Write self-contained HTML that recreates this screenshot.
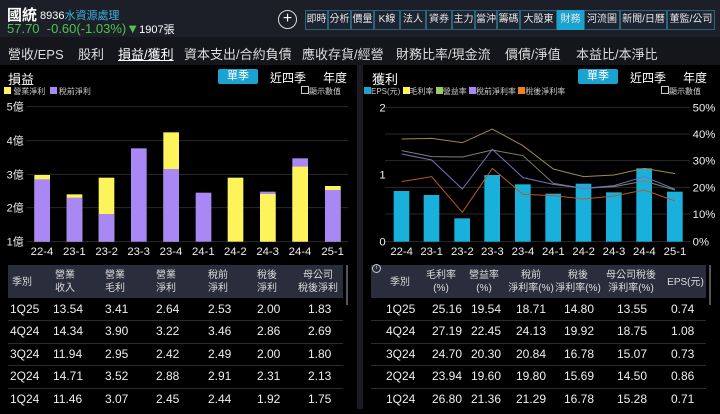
<!DOCTYPE html>
<html><head><meta charset="utf-8"><style>
*{margin:0;padding:0;box-sizing:border-box}
body{width:720px;height:409px;background:#000;color:#fff;font-family:"Liberation Sans","Noto Sans CJK TC",sans-serif;position:relative;overflow:hidden}
.a{position:absolute;white-space:nowrap}
.tb{position:absolute;top:10px;height:20px;border:1px solid #2d6478;font-size:10px;line-height:18px;text-align:center;color:#e8e8e8;background:#1b2430}
.nav{font-size:13px;top:44px;color:#ddd}
.th{position:absolute;font-size:10px;color:#ddd;text-align:center;line-height:13px}
.sep{position:absolute;height:1px;background:#2a2c34}
</style></head><body>
<div class="a" style="left:0;top:0;width:720px;height:37px;background:#1c1f27"></div>
<div class="a" style="left:0;top:37px;width:720px;height:28px;background:#14161b"></div>
<div class="a" style="left:7px;top:4px;font-size:15px;font-weight:bold">國統</div>
<div class="a" style="left:40px;top:7px;font-size:11px">8936<span style="color:#3fb0e0">水資源處理</span></div>
<div class="a" style="left:7px;top:21px;font-size:13px;color:#4fc34f">57.70 &nbsp;-0.60(-1.03%)▼<span style="color:#fff;font-size:11px">1907張</span></div>
<div class="a" style="left:278px;top:10px;width:19px;height:19px;border:1.5px solid #ddd;border-radius:50%;font-size:16px;line-height:15px;text-align:center">+</div>
<div class="tb" style="left:305px;width:23px">即時</div><div class="tb" style="left:328px;width:23px">分析</div><div class="tb" style="left:351px;width:23px">價量</div><div class="tb" style="left:374px;width:26px">K線</div><div class="tb" style="left:400px;width:26px">法人</div><div class="tb" style="left:426px;width:26px">資券</div><div class="tb" style="left:452px;width:23px">主力</div><div class="tb" style="left:475px;width:22px">當沖</div><div class="tb" style="left:497px;width:23px">籌碼</div><div class="tb" style="left:520px;width:37px">大股東</div><div class="tb" style="left:557px;width:27px;background:#1aa3d0;border-color:#1aa3d0">財務</div><div class="tb" style="left:584px;width:36px">河流圖</div><div class="tb" style="left:620px;width:47px">新聞/日曆</div><div class="tb" style="left:667px;width:48px">董監/公司</div>
<div class="a nav" style="left:8px">營收/EPS</div><div class="a nav" style="left:78px">股利</div><div class="a nav" style="left:118px;text-decoration:underline;color:#fff">損益/獲利</div><div class="a nav" style="left:184px">資本支出/合約負債</div><div class="a nav" style="left:302px">應收存貨/經營</div><div class="a nav" style="left:396px">財務比率/現金流</div><div class="a nav" style="left:505px">價債/淨值</div><div class="a nav" style="left:576px">本益比/本淨比</div>
<div class="a" style="left:357px;top:65px;width:6px;height:344px;background:#1a1c22"></div>
<div class="a" style="left:8px;top:69px;font-size:13px">損益</div>
<div class="a" style="left:218px;top:69px;width:40px;height:15px;background:#1aa3d0;border-radius:2px;font-size:11px;text-align:center;line-height:15px">單季</div>
<div class="a" style="left:270px;top:69px;font-size:12px">近四季</div><div class="a" style="left:323px;top:69px;font-size:12px">年度</div>
<div class="a" style="left:4px;top:86px;font-size:8px;color:#ccc"><span style="display:inline-block;width:7px;height:7px;background:#fdf35a"></span> 營業淨利 &nbsp;<span style="display:inline-block;width:7px;height:7px;background:#a987f5"></span> 稅前淨利</div>
<div class="a" style="left:301px;top:86px;font-size:8px;color:#ccc"><span style="display:inline-block;width:8px;height:8px;border:1px solid #ccc"></span>顯示數值</div>
<div class="a" style="left:372px;top:69px;font-size:13px">獲利</div>
<div class="a" style="left:578px;top:69px;width:40px;height:15px;background:#1aa3d0;border-radius:2px;font-size:11px;text-align:center;line-height:15px">單季</div>
<div class="a" style="left:630px;top:69px;font-size:12px">近四季</div><div class="a" style="left:683px;top:69px;font-size:12px">年度</div>
<div class="a" style="left:364px;top:86px;font-size:8px;color:#ccc"><span style="display:inline-block;width:7px;height:7px;background:#1aa3d0"></span>EPS(元) <span style="display:inline-block;width:7px;height:7px;background:#fdf35a"></span>毛利率 <span style="display:inline-block;width:7px;height:7px;background:#9acd60"></span>營益率 <span style="display:inline-block;width:7px;height:7px;background:#a987f5"></span>稅前淨利率 <span style="display:inline-block;width:7px;height:7px;background:#f08020"></span>稅後淨利率</div>
<div class="a" style="left:661px;top:86px;font-size:8px;color:#ccc"><span style="display:inline-block;width:8px;height:8px;border:1px solid #ccc"></span>顯示數值</div>
<svg class="a" style="left:0;top:95px" width="360" height="170" viewBox="0 0 1080 510">
<g stroke="#2a2a2a" stroke-width="3"><line x1="80" y1="35" x2="1045" y2="35"/><line x1="80" y1="137" x2="1045" y2="137"/><line x1="80" y1="238" x2="1045" y2="238"/><line x1="80" y1="338" x2="1045" y2="338"/><line x1="80" y1="440" x2="1045" y2="440"/></g>
<g fill="#eee" font-size="33" font-family="Liberation Sans,Noto Sans CJK TC,sans-serif"><text x="20" y="47">5億</text><text x="20" y="149">4億</text><text x="20" y="250">3億</text><text x="20" y="350">2億</text><text x="20" y="452">1億</text></g>
<g>
<rect x="103" y="240" width="47" height="200" fill="#fdf35a"/><rect x="103" y="253" width="47" height="187" fill="#a987f5"/>
<rect x="200" y="298" width="47" height="142" fill="#fdf35a"/><rect x="200" y="308" width="47" height="132" fill="#a987f5"/>
<rect x="296" y="248" width="47" height="192" fill="#fdf35a"/><rect x="296" y="357" width="47" height="83" fill="#a987f5"/>
<rect x="393" y="160" width="47" height="280" fill="#a987f5"/>
<rect x="490" y="112" width="47" height="328" fill="#fdf35a"/><rect x="490" y="222" width="47" height="218" fill="#a987f5"/>
<rect x="587" y="293" width="47" height="147" fill="#a987f5"/>
<rect x="683" y="248" width="47" height="192" fill="#fdf35a"/>
<rect x="780" y="290" width="47" height="150" fill="#a987f5"/><rect x="780" y="297" width="47" height="143" fill="#fdf35a"/>
<rect x="877" y="190" width="47" height="250" fill="#a987f5"/><rect x="877" y="215" width="47" height="225" fill="#fdf35a"/>
<rect x="975" y="273" width="47" height="167" fill="#fdf35a"/><rect x="975" y="285" width="47" height="155" fill="#a987f5"/>
</g>
<g fill="#eee" font-size="34" text-anchor="middle" font-family="Liberation Sans,sans-serif"><text x="126" y="480">22-4</text><text x="223" y="480">23-1</text><text x="320" y="480">23-2</text><text x="416" y="480">23-3</text><text x="513" y="480">23-4</text><text x="610" y="480">24-1</text><text x="706" y="480">24-2</text><text x="803" y="480">24-3</text><text x="900" y="480">24-4</text><text x="998" y="480">25-1</text></g>
</svg>
<svg class="a" style="left:360px;top:95px" width="360" height="170" viewBox="0 0 1080 510">
<g stroke="#2a2a2a" stroke-width="3"><line x1="75" y1="37" x2="990" y2="37"/><line x1="75" y1="117" x2="990" y2="117"/><line x1="75" y1="197" x2="990" y2="197"/><line x1="75" y1="277" x2="990" y2="277"/><line x1="75" y1="357" x2="990" y2="357"/><line x1="75" y1="440" x2="990" y2="440"/></g>
<g fill="#eee" font-size="34" font-family="Liberation Sans,sans-serif"><text x="58" y="49">2</text><text x="58" y="251">1</text><text x="58" y="452">0</text>
<text x="998" y="49">50%</text><text x="998" y="129">40%</text><text x="998" y="209">30%</text><text x="998" y="289">20%</text><text x="998" y="369">10%</text><text x="998" y="452">0%</text></g>
<g fill="#1ab0dc">
<rect x="101" y="288" width="47" height="152"/><rect x="191" y="300" width="47" height="140"/><rect x="283" y="370" width="47" height="70"/><rect x="373" y="240" width="47" height="200"/><rect x="465" y="268" width="47" height="172"/><rect x="556" y="296" width="47" height="144"/><rect x="647" y="266" width="47" height="174"/><rect x="738" y="292" width="47" height="148"/><rect x="829" y="220" width="47" height="220"/><rect x="921" y="290" width="47" height="150"/>
</g>
<g fill="none" stroke-width="3">
<polyline stroke="#a08a48" points="125,132 215,130 307,143 397,102 489,152 580,222 671,245 762,240 853,220 945,236"/>
<polyline stroke="#7e8466" points="125,167 215,185 307,186 397,165 489,182 580,265 671,280 762,275 853,258 945,285"/>
<polyline stroke="#7470c0" points="125,177 215,195 307,282 397,163 489,248 580,268 671,280 762,272 853,245 945,283"/>
<polyline stroke="#b85a22" points="125,260 215,245 307,352 397,220 489,298 580,302 671,312 762,303 853,285 945,318"/>
</g>
<g fill="#eee" font-size="34" text-anchor="middle" font-family="Liberation Sans,sans-serif"><text x="125" y="480">22-4</text><text x="215" y="480">23-1</text><text x="307" y="480">23-2</text><text x="397" y="480">23-3</text><text x="489" y="480">23-4</text><text x="580" y="480">24-1</text><text x="671" y="480">24-2</text><text x="762" y="480">24-3</text><text x="853" y="480">24-4</text><text x="945" y="480">25-1</text></g>
</svg>
<div class="a" style="left:8px;top:265px;width:335px;height:33px;background:#2a2d3c"></div>
<div class="a" style="left:346px;top:265px;width:2px;height:40px;background:#555"></div>
<div class="th" style="left:2px;top:276px;width:40px">季別</div>
<div class="th" style="left:45px;top:269px;width:40px">營業<br>收入</div>
<div class="th" style="left:95px;top:269px;width:40px">營業<br>毛利</div>
<div class="th" style="left:146px;top:269px;width:40px">營業<br>淨利</div>
<div class="th" style="left:198px;top:269px;width:40px">稅前<br>淨利</div>
<div class="th" style="left:247px;top:269px;width:40px">稅後<br>淨利</div>
<div class="th" style="left:293px;top:269px;width:50px">母公司<br>稅後淨利</div>
<div class="sep" style="left:8px;top:320px;width:335px"></div><div class="sep" style="left:8px;top:343px;width:335px"></div><div class="sep" style="left:8px;top:365px;width:335px"></div><div class="sep" style="left:8px;top:388px;width:335px"></div>
<div class="a" style="left:0;top:302px;width:345px;font-size:12px;color:#eee">
<div style="position:relative;height:22.4px"><span class="a" style="left:10px">1Q25</span><span class="a" style="left:53px">13.54</span><span class="a" style="left:105px">3.41</span><span class="a" style="left:156px">2.64</span><span class="a" style="left:208px">2.53</span><span class="a" style="left:257px">2.00</span><span class="a" style="left:308px">1.83</span></div>
<div style="position:relative;height:22.4px"><span class="a" style="left:10px">4Q24</span><span class="a" style="left:53px">14.34</span><span class="a" style="left:105px">3.90</span><span class="a" style="left:156px">3.22</span><span class="a" style="left:208px">3.46</span><span class="a" style="left:257px">2.86</span><span class="a" style="left:308px">2.69</span></div>
<div style="position:relative;height:22.4px"><span class="a" style="left:10px">3Q24</span><span class="a" style="left:53px">11.94</span><span class="a" style="left:105px">2.95</span><span class="a" style="left:156px">2.42</span><span class="a" style="left:208px">2.49</span><span class="a" style="left:257px">2.00</span><span class="a" style="left:308px">1.80</span></div>
<div style="position:relative;height:22.4px"><span class="a" style="left:10px">2Q24</span><span class="a" style="left:53px">14.71</span><span class="a" style="left:105px">3.52</span><span class="a" style="left:156px">2.88</span><span class="a" style="left:208px">2.91</span><span class="a" style="left:257px">2.31</span><span class="a" style="left:308px">2.13</span></div>
<div style="position:relative;height:22.4px"><span class="a" style="left:10px">1Q24</span><span class="a" style="left:53px">11.46</span><span class="a" style="left:105px">3.07</span><span class="a" style="left:156px">2.45</span><span class="a" style="left:208px">2.44</span><span class="a" style="left:257px">1.92</span><span class="a" style="left:308px">1.75</span></div>
</div>
<div class="a" style="left:371px;top:265px;width:335px;height:33px;background:#2a2d3c"></div>
<div class="a" style="left:709px;top:265px;width:2px;height:40px;background:#555"></div>
<div class="a" style="left:372px;top:264px;width:9px;height:9px;border:1px solid #ccc;border-radius:50%;font-size:6px;text-align:center;line-height:7px;color:#ccc">i</div>
<div class="th" style="left:380px;top:276px;width:40px">季別</div>
<div class="th" style="left:421px;top:269px;width:40px">毛利率<br>(%)</div>
<div class="th" style="left:464px;top:269px;width:40px">營益率<br>(%)</div>
<div class="th" style="left:506px;top:269px;width:50px">稅前<br>淨利率(%)</div>
<div class="th" style="left:553px;top:269px;width:50px">稅後<br>淨利率(%)</div>
<div class="th" style="left:603px;top:269px;width:56px">母公司稅後<br>淨利率(%)</div>
<div class="th" style="left:663px;top:276px;width:45px">EPS(元)</div>
<div class="sep" style="left:371px;top:320px;width:335px"></div><div class="sep" style="left:371px;top:343px;width:335px"></div><div class="sep" style="left:371px;top:365px;width:335px"></div><div class="sep" style="left:371px;top:388px;width:335px"></div>
<div class="a" style="left:0;top:302px;width:720px;font-size:12px;color:#eee">
<div style="position:relative;height:22.4px"><span class="a" style="left:386px">1Q25</span><span class="a" style="left:432px">25.16</span><span class="a" style="left:471px">19.54</span><span class="a" style="left:516px">18.71</span><span class="a" style="left:564px">14.80</span><span class="a" style="left:617px">13.55</span><span class="a" style="left:671px">0.74</span></div>
<div style="position:relative;height:22.4px"><span class="a" style="left:386px">4Q24</span><span class="a" style="left:432px">27.19</span><span class="a" style="left:471px">22.45</span><span class="a" style="left:516px">24.13</span><span class="a" style="left:564px">19.92</span><span class="a" style="left:617px">18.75</span><span class="a" style="left:671px">1.08</span></div>
<div style="position:relative;height:22.4px"><span class="a" style="left:386px">3Q24</span><span class="a" style="left:432px">24.70</span><span class="a" style="left:471px">20.30</span><span class="a" style="left:516px">20.84</span><span class="a" style="left:564px">16.78</span><span class="a" style="left:617px">15.07</span><span class="a" style="left:671px">0.73</span></div>
<div style="position:relative;height:22.4px"><span class="a" style="left:386px">2Q24</span><span class="a" style="left:432px">23.94</span><span class="a" style="left:471px">19.60</span><span class="a" style="left:516px">19.80</span><span class="a" style="left:564px">15.69</span><span class="a" style="left:617px">14.50</span><span class="a" style="left:671px">0.86</span></div>
<div style="position:relative;height:22.4px"><span class="a" style="left:386px">1Q24</span><span class="a" style="left:432px">26.80</span><span class="a" style="left:471px">21.36</span><span class="a" style="left:516px">21.29</span><span class="a" style="left:564px">16.78</span><span class="a" style="left:617px">15.28</span><span class="a" style="left:671px">0.71</span></div>
</div>
</body></html>
